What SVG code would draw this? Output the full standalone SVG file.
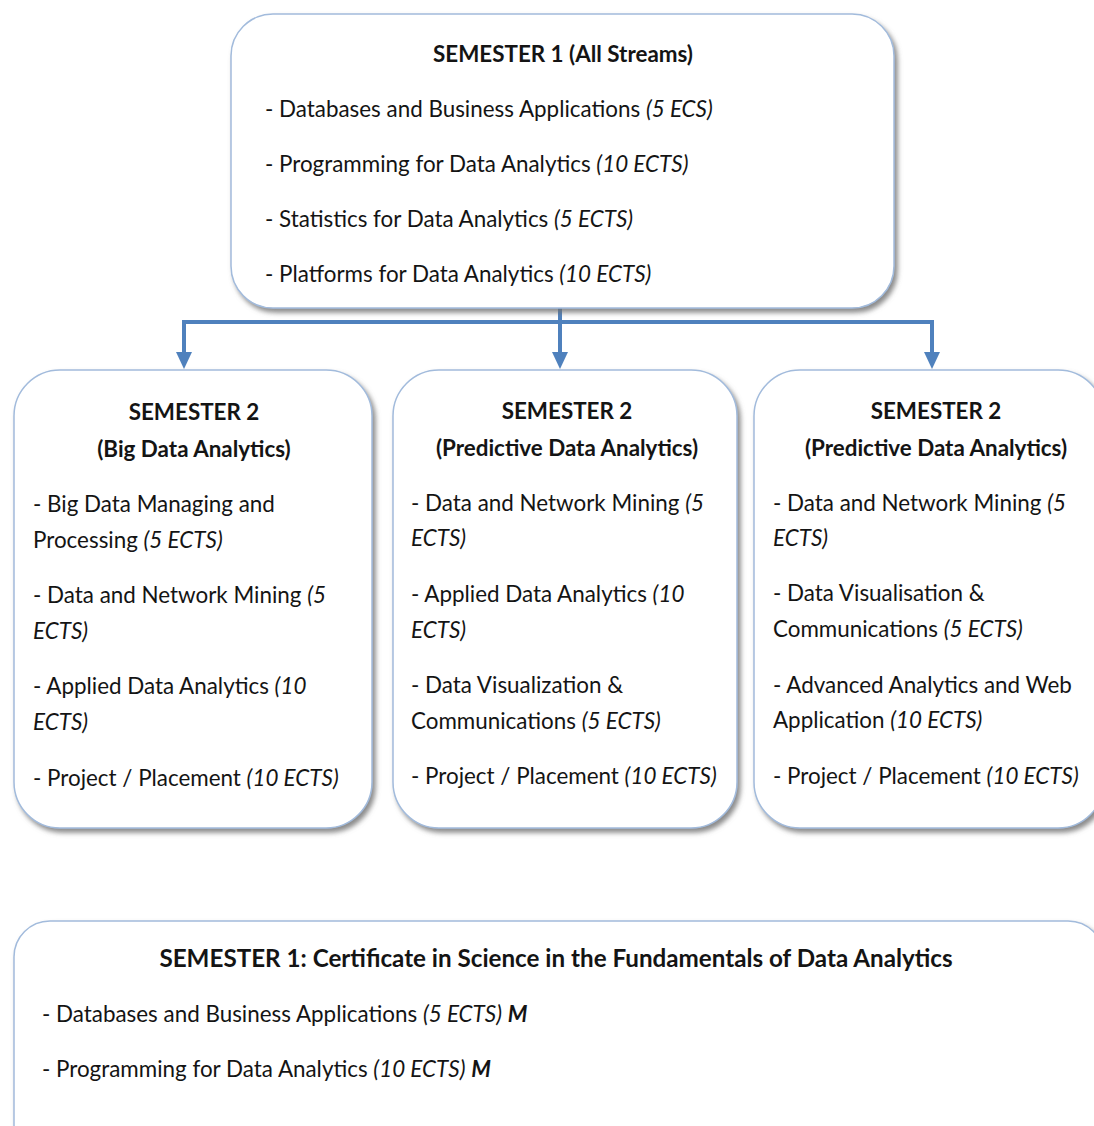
<svg xmlns="http://www.w3.org/2000/svg" width="1094" height="1126" viewBox="0 0 1094 1126">
<style>
.box{fill:#ffffff;stroke:#a2bbdc;stroke-width:1.5;filter:url(#sh)}
text{font-family:Lato,"Open Sans","Liberation Sans",sans-serif;font-size:22.4px;fill:#141414}
.t{font-weight:bold;text-anchor:middle}
.big{font-size:24.2px}
.i{font-style:italic}
.bi{font-style:italic;font-weight:bold}
.conn{fill:none;stroke:#4f81bd;stroke-width:4}
</style>
<defs>
<filter id="sh" x="-5%" y="-5%" width="115%" height="115%">
<feDropShadow dx="3" dy="4" stdDeviation="2.5" flood-color="#6e6e6e" flood-opacity="0.8"/>
</filter>
</defs>
<rect width="1094" height="1126" fill="#ffffff"/>

<g id="connectors">
<path class="conn" d="M560,308 V322"/>
<path class="conn" d="M184,322 H932"/>
<path class="conn" d="M184,320 V355"/>
<path class="conn" d="M560,320 V355"/>
<path class="conn" d="M932,320 V355"/>
<path d="M176,352 L192,352 L184,369 z" fill="#4f81bd"/>
<path d="M552,352 L568,352 L560,369 z" fill="#4f81bd"/>
<path d="M924,352 L940,352 L932,369 z" fill="#4f81bd"/>
</g>

<g id="sem1">
<rect class="box" x="231" y="14" width="663" height="294" rx="42"/>
<text class="t" x="563" y="62">SEMESTER 1 (All Streams)</text>
<text x="265" y="117">- Databases and Business Applications <tspan class="i">(5 ECS)</tspan></text>
<text x="265" y="172">- Programming for Data Analytics <tspan class="i">(10 ECTS)</tspan></text>
<text x="265" y="227">- Statistics for Data Analytics <tspan class="i">(5 ECTS)</tspan></text>
<text x="265" y="282">- Platforms for Data Analytics <tspan class="i">(10 ECTS)</tspan></text>
</g>

<g id="sem2-big">
<rect class="box" x="14" y="370" width="358" height="458" rx="46"/>
<text class="t" x="194" y="420">SEMESTER 2</text>
<text class="t" x="194" y="457">(Big Data Analytics)</text>
<text x="33" y="512">- Big Data Managing and</text>
<text x="33" y="548">Processing <tspan class="i">(5 ECTS)</tspan></text>
<text x="33" y="603">- Data and Network Mining <tspan class="i">(5</tspan></text>
<text x="33" y="639" class="i">ECTS)</text>
<text x="33" y="694">- Applied Data Analytics <tspan class="i">(10</tspan></text>
<text x="33" y="730" class="i">ECTS)</text>
<text x="33" y="786">- Project / Placement <tspan class="i">(10 ECTS)</tspan></text>
</g>

<g id="sem2-pred-a">
<rect class="box" x="393" y="370" width="344" height="458" rx="46"/>
<text class="t" x="567" y="419">SEMESTER 2</text>
<text class="t" x="567" y="456">(Predictive Data Analytics)</text>
<text x="411" y="511">- Data and Network Mining <tspan class="i">(5</tspan></text>
<text x="411" y="546" class="i">ECTS)</text>
<text x="411" y="602">- Applied Data Analytics <tspan class="i">(10</tspan></text>
<text x="411" y="638" class="i">ECTS)</text>
<text x="411" y="693">- Data Visualization &amp;</text>
<text x="411" y="729">Communications <tspan class="i">(5 ECTS)</tspan></text>
<text x="411" y="784">- Project / Placement <tspan class="i">(10 ECTS)</tspan></text>
</g>

<g id="sem2-pred-b">
<rect class="box" x="754" y="370" width="350" height="458" rx="46"/>
<text class="t" x="936" y="419">SEMESTER 2</text>
<text class="t" x="936" y="456">(Predictive Data Analytics)</text>
<text x="773" y="511">- Data and Network Mining <tspan class="i">(5</tspan></text>
<text x="773" y="546" class="i">ECTS)</text>
<text x="773" y="601">- Data Visualisation &amp;</text>
<text x="773" y="637">Communications <tspan class="i">(5 ECTS)</tspan></text>
<text x="773" y="693">- Advanced Analytics and Web</text>
<text x="773" y="728">Application <tspan class="i">(10 ECTS)</tspan></text>
<text x="773" y="784">- Project / Placement <tspan class="i">(10 ECTS)</tspan></text>
</g>

<g id="certificate">
<rect class="box" x="14" y="921" width="1090" height="240" rx="36"/>
<text class="t big" x="556" y="967">SEMESTER 1: Certificate in Science in the Fundamentals of Data Analytics</text>
<text x="42" y="1022">- Databases and Business Applications <tspan class="i">(5 ECTS)</tspan> <tspan class="bi">M</tspan></text>
<text x="42" y="1077">- Programming for Data Analytics <tspan class="i">(10 ECTS)</tspan> <tspan class="bi">M</tspan></text>
</g>
</svg>
